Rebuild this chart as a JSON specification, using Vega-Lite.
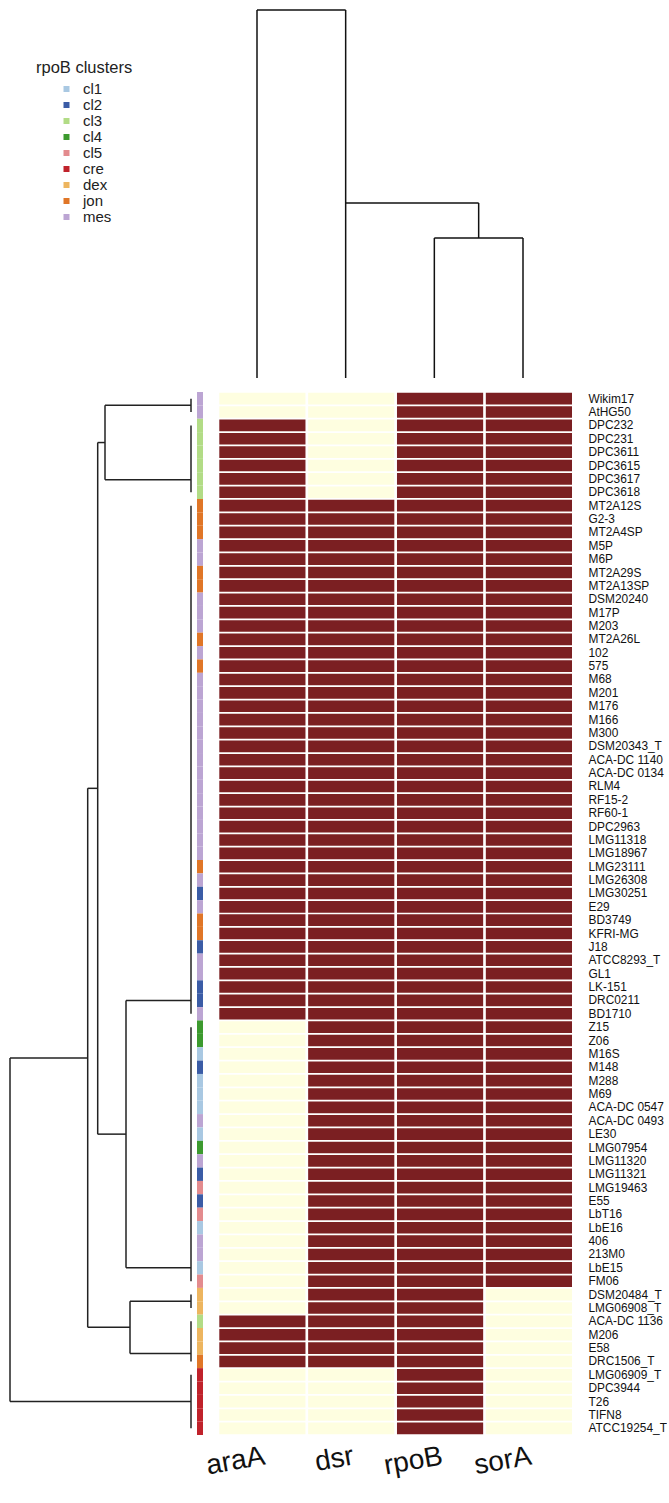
{
  "$schema": "https://vega.github.io/schema/vega-lite/v6.json",
  "padding": 0,
  "background": "white",
  "spacing": 0,
  "config": {
    "view": {"stroke": null},
    "font": "Liberation Sans",
    "concat": {"spacing": 0},
    "legend": {
      "orient": "none",
      "legendX": 36,
      "legendY": 60,
      "padding": 0,
      "titleFontSize": 16.5,
      "titleFontWeight": "normal",
      "titleColor": "#222",
      "titlePadding": 5,
      "labelFontSize": 15,
      "labelColor": "#222",
      "symbolType": "square",
      "symbolSize": 36,
      "symbolStrokeWidth": 0,
      "symbolOffset": 23,
      "labelOffset": 9,
      "rowPadding": 0
    }
  },
  "datasets": {
    "rows": [
      {"name": "Wikim17", "cluster": "mes", "araA": 0, "dsr": 0, "rpoB": 1, "sorA": 1},
      {"name": "AtHG50", "cluster": "mes", "araA": 0, "dsr": 0, "rpoB": 1, "sorA": 1},
      {"name": "DPC232", "cluster": "cl3", "araA": 1, "dsr": 0, "rpoB": 1, "sorA": 1},
      {"name": "DPC231", "cluster": "cl3", "araA": 1, "dsr": 0, "rpoB": 1, "sorA": 1},
      {"name": "DPC3611", "cluster": "cl3", "araA": 1, "dsr": 0, "rpoB": 1, "sorA": 1},
      {"name": "DPC3615", "cluster": "cl3", "araA": 1, "dsr": 0, "rpoB": 1, "sorA": 1},
      {"name": "DPC3617", "cluster": "cl3", "araA": 1, "dsr": 0, "rpoB": 1, "sorA": 1},
      {"name": "DPC3618", "cluster": "cl3", "araA": 1, "dsr": 0, "rpoB": 1, "sorA": 1},
      {"name": "MT2A12S", "cluster": "jon", "araA": 1, "dsr": 1, "rpoB": 1, "sorA": 1},
      {"name": "G2-3", "cluster": "jon", "araA": 1, "dsr": 1, "rpoB": 1, "sorA": 1},
      {"name": "MT2A4SP", "cluster": "jon", "araA": 1, "dsr": 1, "rpoB": 1, "sorA": 1},
      {"name": "M5P", "cluster": "mes", "araA": 1, "dsr": 1, "rpoB": 1, "sorA": 1},
      {"name": "M6P", "cluster": "mes", "araA": 1, "dsr": 1, "rpoB": 1, "sorA": 1},
      {"name": "MT2A29S", "cluster": "jon", "araA": 1, "dsr": 1, "rpoB": 1, "sorA": 1},
      {"name": "MT2A13SP", "cluster": "jon", "araA": 1, "dsr": 1, "rpoB": 1, "sorA": 1},
      {"name": "DSM20240", "cluster": "mes", "araA": 1, "dsr": 1, "rpoB": 1, "sorA": 1},
      {"name": "M17P", "cluster": "mes", "araA": 1, "dsr": 1, "rpoB": 1, "sorA": 1},
      {"name": "M203", "cluster": "mes", "araA": 1, "dsr": 1, "rpoB": 1, "sorA": 1},
      {"name": "MT2A26L", "cluster": "jon", "araA": 1, "dsr": 1, "rpoB": 1, "sorA": 1},
      {"name": "102", "cluster": "mes", "araA": 1, "dsr": 1, "rpoB": 1, "sorA": 1},
      {"name": "575", "cluster": "jon", "araA": 1, "dsr": 1, "rpoB": 1, "sorA": 1},
      {"name": "M68", "cluster": "mes", "araA": 1, "dsr": 1, "rpoB": 1, "sorA": 1},
      {"name": "M201", "cluster": "mes", "araA": 1, "dsr": 1, "rpoB": 1, "sorA": 1},
      {"name": "M176", "cluster": "mes", "araA": 1, "dsr": 1, "rpoB": 1, "sorA": 1},
      {"name": "M166", "cluster": "mes", "araA": 1, "dsr": 1, "rpoB": 1, "sorA": 1},
      {"name": "M300", "cluster": "mes", "araA": 1, "dsr": 1, "rpoB": 1, "sorA": 1},
      {"name": "DSM20343_T", "cluster": "mes", "araA": 1, "dsr": 1, "rpoB": 1, "sorA": 1},
      {"name": "ACA-DC 1140", "cluster": "mes", "araA": 1, "dsr": 1, "rpoB": 1, "sorA": 1},
      {"name": "ACA-DC 0134", "cluster": "mes", "araA": 1, "dsr": 1, "rpoB": 1, "sorA": 1},
      {"name": "RLM4", "cluster": "mes", "araA": 1, "dsr": 1, "rpoB": 1, "sorA": 1},
      {"name": "RF15-2", "cluster": "mes", "araA": 1, "dsr": 1, "rpoB": 1, "sorA": 1},
      {"name": "RF60-1", "cluster": "mes", "araA": 1, "dsr": 1, "rpoB": 1, "sorA": 1},
      {"name": "DPC2963", "cluster": "mes", "araA": 1, "dsr": 1, "rpoB": 1, "sorA": 1},
      {"name": "LMG11318", "cluster": "mes", "araA": 1, "dsr": 1, "rpoB": 1, "sorA": 1},
      {"name": "LMG18967", "cluster": "mes", "araA": 1, "dsr": 1, "rpoB": 1, "sorA": 1},
      {"name": "LMG23111", "cluster": "jon", "araA": 1, "dsr": 1, "rpoB": 1, "sorA": 1},
      {"name": "LMG26308", "cluster": "mes", "araA": 1, "dsr": 1, "rpoB": 1, "sorA": 1},
      {"name": "LMG30251", "cluster": "cl2", "araA": 1, "dsr": 1, "rpoB": 1, "sorA": 1},
      {"name": "E29", "cluster": "mes", "araA": 1, "dsr": 1, "rpoB": 1, "sorA": 1},
      {"name": "BD3749", "cluster": "jon", "araA": 1, "dsr": 1, "rpoB": 1, "sorA": 1},
      {"name": "KFRI-MG", "cluster": "jon", "araA": 1, "dsr": 1, "rpoB": 1, "sorA": 1},
      {"name": "J18", "cluster": "cl2", "araA": 1, "dsr": 1, "rpoB": 1, "sorA": 1},
      {"name": "ATCC8293_T", "cluster": "mes", "araA": 1, "dsr": 1, "rpoB": 1, "sorA": 1},
      {"name": "GL1", "cluster": "mes", "araA": 1, "dsr": 1, "rpoB": 1, "sorA": 1},
      {"name": "LK-151", "cluster": "cl2", "araA": 1, "dsr": 1, "rpoB": 1, "sorA": 1},
      {"name": "DRC0211", "cluster": "cl2", "araA": 1, "dsr": 1, "rpoB": 1, "sorA": 1},
      {"name": "BD1710", "cluster": "mes", "araA": 1, "dsr": 1, "rpoB": 1, "sorA": 1},
      {"name": "Z15", "cluster": "cl4", "araA": 0, "dsr": 1, "rpoB": 1, "sorA": 1},
      {"name": "Z06", "cluster": "cl4", "araA": 0, "dsr": 1, "rpoB": 1, "sorA": 1},
      {"name": "M16S", "cluster": "cl1", "araA": 0, "dsr": 1, "rpoB": 1, "sorA": 1},
      {"name": "M148", "cluster": "cl2", "araA": 0, "dsr": 1, "rpoB": 1, "sorA": 1},
      {"name": "M288", "cluster": "cl1", "araA": 0, "dsr": 1, "rpoB": 1, "sorA": 1},
      {"name": "M69", "cluster": "cl1", "araA": 0, "dsr": 1, "rpoB": 1, "sorA": 1},
      {"name": "ACA-DC 0547", "cluster": "cl1", "araA": 0, "dsr": 1, "rpoB": 1, "sorA": 1},
      {"name": "ACA-DC 0493", "cluster": "mes", "araA": 0, "dsr": 1, "rpoB": 1, "sorA": 1},
      {"name": "LE30", "cluster": "cl1", "araA": 0, "dsr": 1, "rpoB": 1, "sorA": 1},
      {"name": "LMG07954", "cluster": "cl4", "araA": 0, "dsr": 1, "rpoB": 1, "sorA": 1},
      {"name": "LMG11320", "cluster": "mes", "araA": 0, "dsr": 1, "rpoB": 1, "sorA": 1},
      {"name": "LMG11321", "cluster": "cl2", "araA": 0, "dsr": 1, "rpoB": 1, "sorA": 1},
      {"name": "LMG19463", "cluster": "cl5", "araA": 0, "dsr": 1, "rpoB": 1, "sorA": 1},
      {"name": "E55", "cluster": "cl2", "araA": 0, "dsr": 1, "rpoB": 1, "sorA": 1},
      {"name": "LbT16", "cluster": "cl5", "araA": 0, "dsr": 1, "rpoB": 1, "sorA": 1},
      {"name": "LbE16", "cluster": "cl1", "araA": 0, "dsr": 1, "rpoB": 1, "sorA": 1},
      {"name": "406", "cluster": "mes", "araA": 0, "dsr": 1, "rpoB": 1, "sorA": 1},
      {"name": "213M0", "cluster": "mes", "araA": 0, "dsr": 1, "rpoB": 1, "sorA": 1},
      {"name": "LbE15", "cluster": "cl1", "araA": 0, "dsr": 1, "rpoB": 1, "sorA": 1},
      {"name": "FM06", "cluster": "cl5", "araA": 0, "dsr": 1, "rpoB": 1, "sorA": 1},
      {"name": "DSM20484_T", "cluster": "dex", "araA": 0, "dsr": 1, "rpoB": 1, "sorA": 0},
      {"name": "LMG06908_T", "cluster": "dex", "araA": 0, "dsr": 1, "rpoB": 1, "sorA": 0},
      {"name": "ACA-DC 1136", "cluster": "cl3", "araA": 1, "dsr": 1, "rpoB": 1, "sorA": 0},
      {"name": "M206", "cluster": "dex", "araA": 1, "dsr": 1, "rpoB": 1, "sorA": 0},
      {"name": "E58", "cluster": "dex", "araA": 1, "dsr": 1, "rpoB": 1, "sorA": 0},
      {"name": "DRC1506_T", "cluster": "jon", "araA": 1, "dsr": 1, "rpoB": 1, "sorA": 0},
      {"name": "LMG06909_T", "cluster": "cre", "araA": 0, "dsr": 0, "rpoB": 1, "sorA": 0},
      {"name": "DPC3944", "cluster": "cre", "araA": 0, "dsr": 0, "rpoB": 1, "sorA": 0},
      {"name": "T26", "cluster": "cre", "araA": 0, "dsr": 0, "rpoB": 1, "sorA": 0},
      {"name": "TIFN8", "cluster": "cre", "araA": 0, "dsr": 0, "rpoB": 1, "sorA": 0},
      {"name": "ATCC19254_T", "cluster": "cre", "araA": 0, "dsr": 0, "rpoB": 1, "sorA": 0}
    ],
    "rowdend": [
      {"h1": 0, "h2": 0, "r1": 1, "r2": 2},
      {"h1": 0, "h2": 0, "r1": 3, "r2": 8},
      {"h1": 0, "h2": 0, "r1": 9, "r2": 47},
      {"h1": 0, "h2": 0, "r1": 48, "r2": 67},
      {"h1": 0, "h2": 0, "r1": 68, "r2": 69},
      {"h1": 0, "h2": 0, "r1": 70, "r2": 73},
      {"h1": 0, "h2": 0, "r1": 74, "r2": 78},
      {"h1": 0, "h2": 86, "r1": 1.5, "r2": 1.5},
      {"h1": 0, "h2": 86, "r1": 7.06, "r2": 7.06},
      {"h1": 86, "h2": 86, "r1": 1.5, "r2": 7.06},
      {"h1": 0, "h2": 65, "r1": 46, "r2": 46},
      {"h1": 0, "h2": 65, "r1": 66, "r2": 66},
      {"h1": 65, "h2": 65, "r1": 46, "r2": 66},
      {"h1": 86, "h2": 93.3, "r1": 4.28, "r2": 4.28},
      {"h1": 65, "h2": 93.3, "r1": 56, "r2": 56},
      {"h1": 93.3, "h2": 93.3, "r1": 4.28, "r2": 56},
      {"h1": 0, "h2": 61, "r1": 68.5, "r2": 68.5},
      {"h1": 0, "h2": 61, "r1": 72.4, "r2": 72.4},
      {"h1": 61, "h2": 61, "r1": 68.5, "r2": 72.4},
      {"h1": 93.3, "h2": 103.3, "r1": 30.14, "r2": 30.14},
      {"h1": 61, "h2": 103.3, "r1": 70.45, "r2": 70.45},
      {"h1": 103.3, "h2": 103.3, "r1": 30.14, "r2": 70.45},
      {"h1": 103.3, "h2": 181, "r1": 50.3, "r2": 50.3},
      {"h1": 0, "h2": 181, "r1": 76, "r2": 76},
      {"h1": 181, "h2": 181, "r1": 50.3, "r2": 76}
    ],
    "coldend": [
      {"c1": 1, "c2": 1, "h1": 0, "h2": 368},
      {"c1": 2, "c2": 2, "h1": 0, "h2": 368},
      {"c1": 3, "c2": 3, "h1": 0, "h2": 140},
      {"c1": 4, "c2": 4, "h1": 0, "h2": 140},
      {"c1": 3, "c2": 4, "h1": 140, "h2": 140},
      {"c1": 3.5, "c2": 3.5, "h1": 140, "h2": 175},
      {"c1": 2, "c2": 3.5, "h1": 175, "h2": 175},
      {"c1": 1, "c2": 2, "h1": 368, "h2": 368}
    ]
  },
  "vconcat": [
    {
      "width": 566,
      "height": 392,
      "data": {"name": "coldend"},
      "mark": {"type": "rule", "color": "#111", "strokeWidth": 1.5},
      "encoding": {
        "x": {"field": "c1", "type": "quantitative", "axis": null,
              "scale": {"domain": [1, 4], "range": [257, 523], "zero": false, "nice": false}},
        "x2": {"field": "c2"},
        "y": {"field": "h1", "type": "quantitative", "axis": null,
              "scale": {"domain": [-14, 378], "zero": false, "nice": false}},
        "y2": {"field": "h2"}
      }
    },
    {
      "hconcat": [
        {
          "width": 197,
          "height": 1043,
          "data": {"name": "rowdend"},
          "mark": {"type": "rule", "color": "#222", "strokeWidth": 1.5},
          "encoding": {
            "x": {"field": "h1", "type": "quantitative", "axis": null,
                  "scale": {"domain": [-6, 191], "reverse": true, "zero": false, "nice": false}},
            "x2": {"field": "h2"},
            "y": {"field": "r1", "type": "quantitative", "axis": null,
                  "scale": {"domain": [0.5, 78.5], "reverse": true, "zero": false, "nice": false}},
            "y2": {"field": "r2"}
          }
        },
        {
          "width": 6,
          "height": 1043,
          "data": {"name": "rows"},
          "mark": {"type": "rect"},
          "encoding": {
            "y": {"field": "name", "type": "nominal", "sort": null, "axis": null,
                  "scale": {"paddingInner": 0, "paddingOuter": 0}},
            "color": {
              "field": "cluster", "type": "nominal", "title": "rpoB clusters",
              "scale": {
                "domain": ["cl1", "cl2", "cl3", "cl4", "cl5", "cre", "dex", "jon", "mes"],
                "range": ["#A9C8E2", "#3B5CA6", "#B2DC86", "#3C9A2E", "#E38B8E", "#C0222B", "#EDB55F", "#E07627", "#BCA5D3"]
              }
            }
          }
        },
        {
          "width": 363,
          "height": 1043,
          "data": {"name": "rows"},
          "transform": [{"fold": ["araA", "dsr", "rpoB", "sorA"], "as": ["gene", "value"]}],
          "mark": {"type": "rect"},
          "encoding": {
            "x": {"field": "gene", "type": "nominal", "sort": ["araA", "dsr", "rpoB", "sorA"],
                  "scale": {"range": [10.3, 363], "paddingInner": 0.03, "paddingOuter": 0},
                  "axis": {"title": null, "orient": "bottom", "domain": false, "ticks": false,
                           "labelFontSize": 28, "labelAngle": -10, "labelColor": "#111",
                           "labelPadding": 7}},
            "y": {"field": "name", "type": "nominal", "sort": null,
                  "scale": {"paddingInner": 0.13, "paddingOuter": 0.065},
                  "axis": {"title": null, "orient": "right", "domain": false, "ticks": false,
                           "labelFontSize": 11.9, "labelColor": "#111", "labelPadding": 16}},
            "fill": {
              "field": "value", "type": "nominal", "legend": null,
              "scale": {"domain": [0, 1], "range": ["#FEFEE0", "#7B1F22"]}
            }
          }
        }
      ]
    }
  ]
}
